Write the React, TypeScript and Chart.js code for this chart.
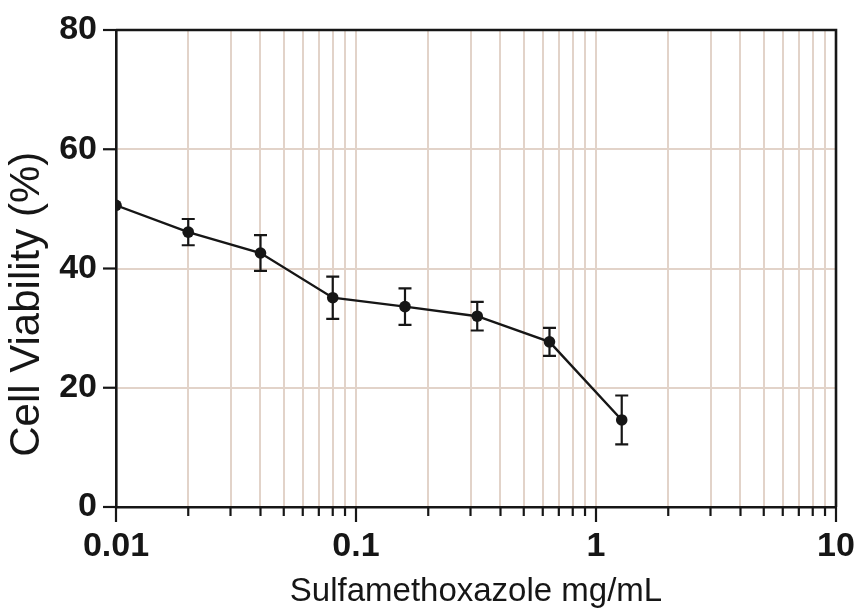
import React, { useEffect, useRef } from "react";
import { Chart, registerables } from "chart.js";

Chart.register(...registerables);

const concentrations = [0.01, 0.02, 0.04, 0.08, 0.16, 0.32, 0.64, 1.28];
const viability = [50.6, 46.1, 42.6, 35.1, 33.6, 32.0, 27.7, 14.6];
const errors = [0, 2.2, 3.0, 3.55, 3.05, 2.4, 2.35, 4.1];
const decades = [0.01, 0.1, 1];
const multipliers = [1, 2, 3, 4, 5, 6, 7, 8, 9];
const xMajorLabels = ["0.01", "0.1", "1", "10"];
const yTicks = [0, 20, 40, 60, 80];
const xTitle = "Sulfamethoxazole mg/mL";
const yTitle = "Cell Viability (%)";

const GRID = "#e2d3c9";
const INK = "#161616";
const FONT = "Liberation Sans, Arial, sans-serif";

export default function App() {
  const ref = useRef<HTMLCanvasElement>(null);
  useEffect(() => {
    document.body.style.margin = "0";
    const canvas = ref.current;
    if (!canvas) return;

    const xTickValues: number[] = [];
    decades.forEach((d) => multipliers.forEach((m) => xTickValues.push(+(d * m).toPrecision(6))));
    xTickValues.push(10);
    const isMajor = (v: number) => xMajorLabels.map(Number).some((m) => Math.abs(m - v) < 1e-9);

    const decor = {
      id: "decor",
      afterDatasetsDraw(chart: any) {
        const { ctx, chartArea, scales } = chart;
        const xs = scales.x;
        const ys = scales.y;
        ctx.save();
        // error bars
        ctx.strokeStyle = INK;
        ctx.lineWidth = 2.2;
        concentrations.forEach((c, i) => {
          if (!errors[i]) return;
          const px = xs.getPixelForValue(c);
          const top = ys.getPixelForValue(viability[i] + errors[i]);
          const bot = ys.getPixelForValue(viability[i] - errors[i]);
          ctx.beginPath();
          ctx.moveTo(px, top);
          ctx.lineTo(px, bot);
          ctx.moveTo(px - 6.5, top);
          ctx.lineTo(px + 6.5, top);
          ctx.moveTo(px - 6.5, bot);
          ctx.lineTo(px + 6.5, bot);
          ctx.stroke();
        });
        // frame top and right
        ctx.lineWidth = 2.6;
        ctx.beginPath();
        ctx.moveTo(chartArea.left, chartArea.top);
        ctx.lineTo(chartArea.right, chartArea.top);
        ctx.lineTo(chartArea.right, chartArea.bottom);
        ctx.stroke();
        // x ticks
        ctx.lineWidth = 2.2;
        xTickValues.forEach((v) => {
          const px = xs.getPixelForValue(v);
          const len = isMajor(v) ? 15 : 9;
          ctx.beginPath();
          ctx.moveTo(px, chartArea.bottom);
          ctx.lineTo(px, chartArea.bottom + len);
          ctx.stroke();
        });
        // y ticks
        yTicks.forEach((v) => {
          const py = ys.getPixelForValue(v);
          ctx.beginPath();
          ctx.moveTo(chartArea.left - 13, py);
          ctx.lineTo(chartArea.left, py);
          ctx.stroke();
        });
        // y axis title
        ctx.fillStyle = INK;
        ctx.font = `42px ${FONT}`;
        ctx.textAlign = "center";
        ctx.textBaseline = "middle";
        ctx.translate(27, chartArea.top + (chartArea.bottom - chartArea.top) * 0.575);
        ctx.rotate(-Math.PI / 2);
        ctx.fillText(yTitle, 0, 0);
        ctx.restore();
      },
    };

    const chart = new Chart(canvas, {
      type: "line",
      data: {
        datasets: [
          {
            data: concentrations.map((c, i) => ({ x: c, y: viability[i] })),
            borderColor: INK,
            backgroundColor: INK,
            borderWidth: 2.4,
            pointRadius: 5.8,
            pointBackgroundColor: INK,
            pointBorderColor: INK,
            pointBorderWidth: 0,
            tension: 0,
          },
        ],
      },
      options: {
        animation: false,
        responsive: false,
        maintainAspectRatio: false,
        layout: { padding: { left: 0, right: 25, top: 30, bottom: 0 } },
        plugins: { legend: { display: false }, tooltip: { enabled: false } },
        scales: {
          x: {
            type: "logarithmic",
            min: 0.01,
            max: 10,
            afterBuildTicks: (scale: any) => {
              scale.ticks = xTickValues.map((v) => ({ value: v, major: isMajor(v) }));
            },
            afterFit: (scale: any) => {
              scale.height = 108;
              scale.paddingLeft = 0;
              scale.paddingRight = 0;
            },
            grid: {
              drawTicks: false,
              lineWidth: 2,
              color: (c: any) => {
                const v = c.tick ? c.tick.value : 0;
                return v <= 0.0100001 || v >= 9.99999 ? "rgba(0,0,0,0)" : GRID;
              },
            },
            border: { display: true, color: INK, width: 2.6 },
            ticks: {
              autoSkip: false,
              maxRotation: 0,
              minRotation: 0,
              padding: 19,
              color: INK,
              font: { family: FONT, size: 34, weight: "bold" },
              callback: (v: any) => {
                const idx = xMajorLabels.map(Number).findIndex((m) => Math.abs(m - Number(v)) < 1e-9);
                return idx >= 0 ? xMajorLabels[idx] : "";
              },
            },
            title: {
              display: true,
              text: xTitle,
              color: INK,
              padding: { top: 0, bottom: 7 },
              font: { family: FONT, size: 33, lineHeight: 1 },
            },
          },
          y: {
            type: "linear",
            min: 0,
            max: 80,
            afterBuildTicks: (scale: any) => {
              scale.ticks = yTicks.map((v) => ({ value: v }));
            },
            afterFit: (scale: any) => {
              scale.width = 116;
              scale.paddingTop = 0;
              scale.paddingBottom = 0;
            },
            grid: {
              drawTicks: false,
              lineWidth: 2,
              color: (c: any) => {
                const v = c.tick ? c.tick.value : 0;
                return v <= 0 || v >= 80 ? "rgba(0,0,0,0)" : GRID;
              },
            },
            border: { display: true, color: INK, width: 2.6 },
            ticks: {
              padding: 19,
              color: INK,
              font: { family: FONT, size: 34, weight: "bold" },
            },
            title: { display: false, text: yTitle },
          },
        },
      },
      plugins: [decor],
    } as any);
    return () => chart.destroy();
  }, []);

  return (
    <div style={{ width: 861, height: 615, position: "relative" }}>
      <canvas ref={ref} width={861} height={615} style={{ width: 861, height: 615, display: "block" }} />
    </div>
  );
}
